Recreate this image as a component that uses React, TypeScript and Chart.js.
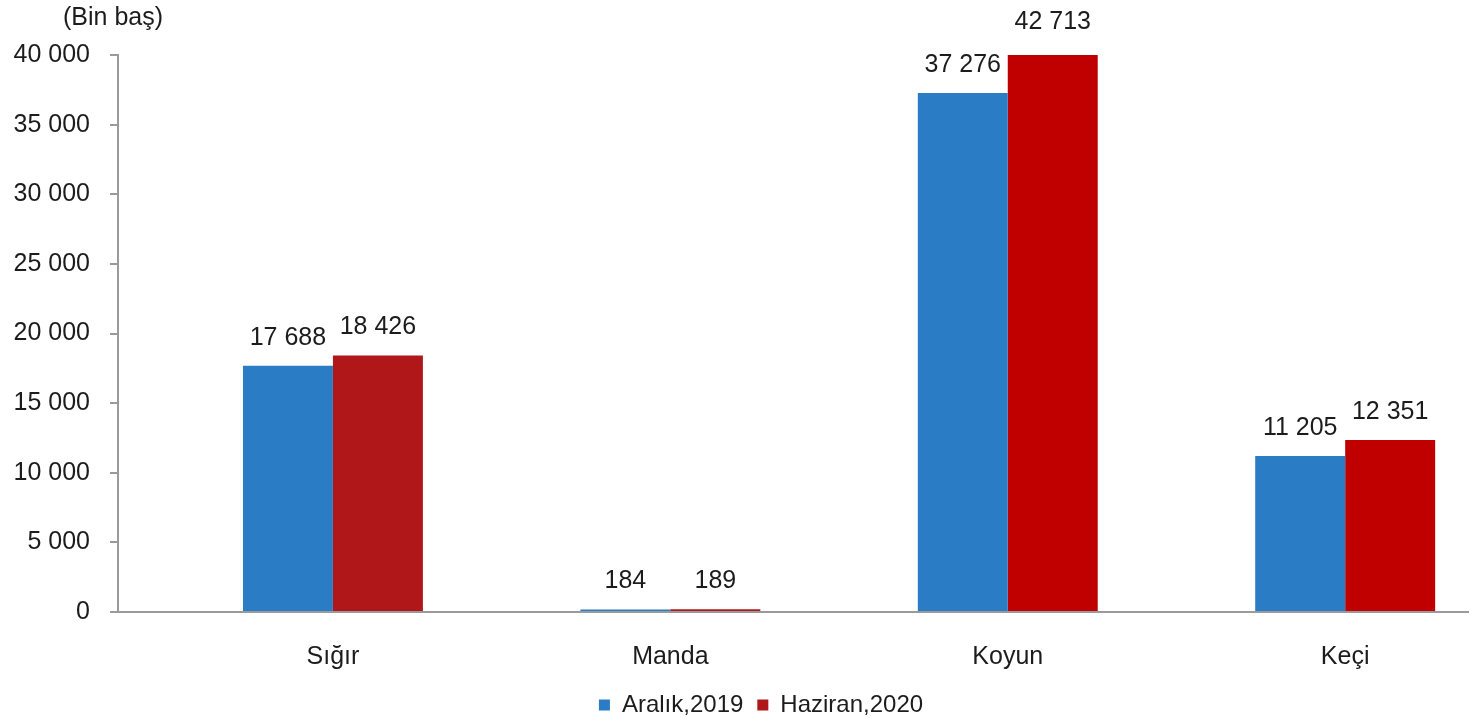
import React, { useEffect, useRef } from "react";
import { Chart, registerables } from "chart.js";

Chart.register(...registerables);

const categories = ["Sığır", "Manda", "Koyun", "Keçi"];
const seriesNames = ["Aralık,2019", "Haziran,2020"];
const aralik2019 = [17688, 184, 37276, 11205];
const haziran2020 = [18426, 189, 42713, 12351];
const yTicks = [0, 5000, 10000, 15000, 20000, 25000, 30000, 35000, 40000];
const unitLabel = "(Bin baş)";

const blue = "#2A7DC4";
const redBars = ["#AF1719", "#B0181C", "#C00000", "#C00000"];
const legendRed = "#C00000";
const FONT = "'Liberation Sans', Arial, sans-serif";
const TEXT = "#1c1c1c";

const fmt = (v: number) => String(v).replace(/\B(?=(\d{3})+(?!\d))/g, " ");

export default function App() {
  const ref = useRef<HTMLCanvasElement | null>(null);

  useEffect(() => {
    if (!ref.current) return;

    const labelPlugin = {
      id: "valueLabels",
      afterLayout(chart: any) {
        if (chart.legend) {
          chart.legend.left += 27;
          chart.legend.right += 27;
        }
      },
      afterDatasetsDraw(chart: any) {
        const { ctx, chartArea } = chart;
        ctx.save();
        ctx.font = `25px ${FONT}`;
        ctx.fillStyle = TEXT;
        ctx.textAlign = "center";
        ctx.textBaseline = "middle";
        chart.data.datasets.forEach((ds: any, di: number) => {
          const meta = chart.getDatasetMeta(di);
          meta.data.forEach((bar: any, i: number) => {
            const top = Math.max(bar.y, chartArea.top);
            const off = bar.y < chartArea.top ? 33 : 28;
            ctx.fillText(fmt(ds.data[i].y), bar.x, top - off);
          });
        });
        ctx.font = `25px ${FONT}`;
        ctx.fillText(unitLabel, 113, 18);
        ctx.restore();
      },
    };

    const chart = new Chart(ref.current, {
      type: "bar",
      data: {
        datasets: [
          {
            label: seriesNames[0],
            data: aralik2019.map((v, i) => ({ x: i, y: v })),
            backgroundColor: blue,
            borderWidth: 0,
          },
          {
            label: seriesNames[1],
            data: haziran2020.map((v, i) => ({ x: i, y: v })),
            backgroundColor: (c: any) =>
              c.dataIndex === undefined ? legendRed : redBars[c.dataIndex] ?? legendRed,
            borderWidth: 0,
          },
        ],
      },
      options: {
        animation: false,
        responsive: true,
        maintainAspectRatio: false,
        layout: { padding: { top: 55, right: 8, left: 0, bottom: 0 } },
        datasets: {
          bar: { categoryPercentage: 0.5333, barPercentage: 1 },
        },
        scales: {
          x: {
            type: "linear",
            offset: false,
            min: -0.637,
            max: 3.364,
            grid: { display: false, drawTicks: false, offset: false },
            border: { display: true, color: "#9a9a9a", width: 2 },
            afterBuildTicks: (scale: any) => {
              scale.ticks = categories.map((_, i) => ({ value: i }));
            },
            afterFit: (scale: any) => {
              scale.height = 67;
            },
            ticks: {
              autoSkip: false,
              maxRotation: 0,
              padding: 30,
              color: TEXT,
              font: { family: FONT, size: 25 },
              callback: (v: any) => categories[v] ?? "",
            },
          },
          y: {
            min: 0,
            max: 40000,
            afterBuildTicks: (scale: any) => {
              scale.ticks = yTicks.map((v) => ({ value: v }));
            },
            afterFit: (scale: any) => {
              scale.width = 118;
            },
            grid: {
              drawOnChartArea: false,
              drawTicks: true,
              tickLength: 8,
              color: "#9a9a9a",
              lineWidth: 2,
            },
            border: { display: true, color: "#9a9a9a", width: 2 },
            ticks: {
              padding: 20,
              color: TEXT,
              font: { family: FONT, size: 25 },
              callback: (v: any) => fmt(Number(v)),
            },
          },
        },
        plugins: {
          legend: {
            position: "bottom",
            labels: {
              boxWidth: 11,
              boxHeight: 11,
              padding: 14,
              color: TEXT,
              font: { family: FONT, size: 24 },
            },
          },
          tooltip: { enabled: false },
          title: { display: false },
        },
      },
      plugins: [labelPlugin],
    } as any);

    return () => chart.destroy();
  }, []);

  return (
    <div
      style={{
        position: "fixed",
        left: 0,
        top: 0,
        width: 1476,
        height: 727,
        background: "#fff",
      }}
    >
      <canvas ref={ref} />
    </div>
  );
}
